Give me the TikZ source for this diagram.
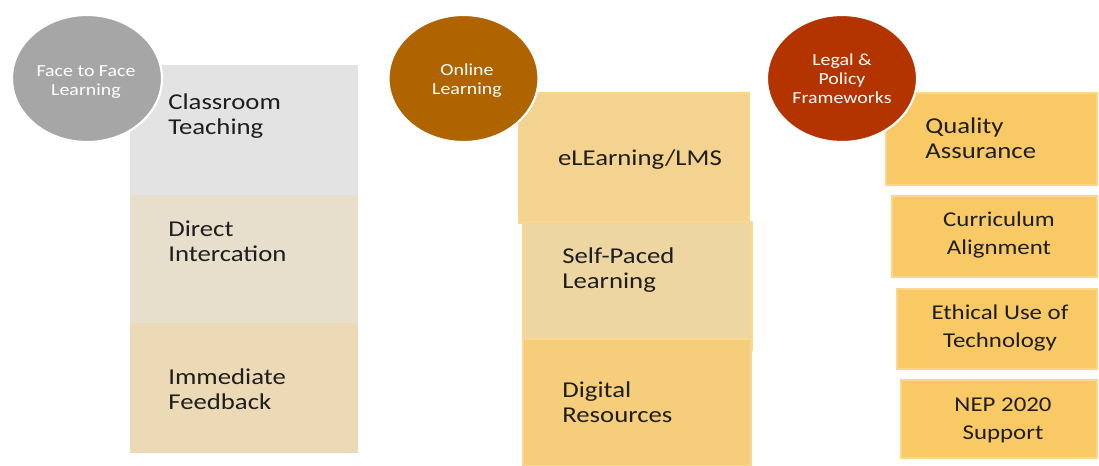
\documentclass[tikz,border=0pt]{standalone}
\usepackage{fontspec}
\setmainfont{Carlito}[FakeStretch=1.18]
\usepackage{tikz, xcolor}

\definecolor{facegray}{HTML}{A6A6A6}
\definecolor{onlinebrown}{HTML}{AF6400}
\definecolor{policyred}{HTML}{B43400}
\definecolor{classgray}{HTML}{E3E3E3}
\definecolor{directbeige}{HTML}{E7DECB}
\definecolor{feedbeige}{HTML}{EBDAB5}
\definecolor{lmsyellow}{HTML}{F3D38F}
\definecolor{paceyellow}{HTML}{EED6A3}
\definecolor{digiyellow}{HTML}{F6CD7A}
\definecolor{policyyellow}{HTML}{F9C966}
\definecolor{policyedge}{HTML}{FBD68D}
\definecolor{textdark}{HTML}{1E1E1E}

\begin{document}
\begin{tikzpicture}[x=0.02cm, y=-0.02cm,
    bigtext/.style={font=\fontsize{12.9}{14.2}\selectfont, text=textdark, align=left, inner sep=0, anchor=west},
    smalltext/.style={font=\fontsize{12}{15.9}\selectfont, text=textdark, align=center, inner sep=0},
    circtext/.style={font=\fontsize{9.6}{10.8}\selectfont, text=white, align=center, inner sep=0},
    circ/.style={draw=white, line width=1.2pt},
    ybox/.style={draw=policyedge, line width=1pt}]
    \useasboundingbox (0, 0) rectangle (1099, 466);

    \fill [classgray] (130, 65) rectangle (358, 195);
    \fill [directbeige] (130, 195) rectangle (358, 323);
    \fill [feedbeige] (130, 323) rectangle (358, 453);

    \filldraw [ybox, fill=lmsyellow] (519, 93) rectangle (749, 223);
    \filldraw [ybox, fill=paceyellow] (523, 222) rectangle (752, 350);
    \filldraw [ybox, fill=digiyellow] (523, 339) rectangle (751, 466);

    \filldraw [ybox, fill=policyyellow] (886, 93) rectangle (1097, 185);
    \filldraw [ybox, fill=policyyellow] (892, 196) rectangle (1097, 277);
    \filldraw [ybox, fill=policyyellow] (897, 289) rectangle (1097, 369);
    \filldraw [ybox, fill=policyyellow] (901, 380) rectangle (1097, 458);

    \filldraw [circ, fill=facegray] (87, 78.5) ellipse [x radius=1.5cm, y radius=1.27cm];
    \filldraw [circ, fill=onlinebrown] (463.5, 78.5) ellipse [x radius=1.5cm, y radius=1.27cm];
    \filldraw [circ, fill=policyred] (842, 78.5) ellipse [x radius=1.5cm, y radius=1.27cm];

    \node [circtext] (face) at (86, 82) {Face to Face\\Learning};
    \node [circtext] (online) at (467, 81) {Online\\Learning};
    \node [circtext] (legal) at (842, 79) {Legal \&\\Policy\\Frameworks};

    \node [bigtext] (classroom) at (168, 116) {Classroom\\Teaching};
    \node [bigtext] (direct) at (168, 241.5) {Direct\\Intercation};
    \node [bigtext] (feedback) at (168, 389) {Immediate\\Feedback};

    \node [bigtext, anchor=center] (lms) at (640, 160) {eLEarning/LMS};
    \node [bigtext] (selfpaced) at (562, 270) {Self-Paced\\Learning};
    \node [bigtext] (digital) at (562, 402) {Digital\\Resources};

    \node [bigtext] (quality) at (925, 138.5) {Quality\\Assurance};
    \node [smalltext] (curriculum) at (999, 235) {Curriculum\\Alignment};
    \node [smalltext] (ethical) at (1000, 328) {Ethical Use of\\Technology};
    \node [smalltext] (nep) at (1003, 420) {NEP 2020\\Support};
  \end{tikzpicture}
\end{document}
